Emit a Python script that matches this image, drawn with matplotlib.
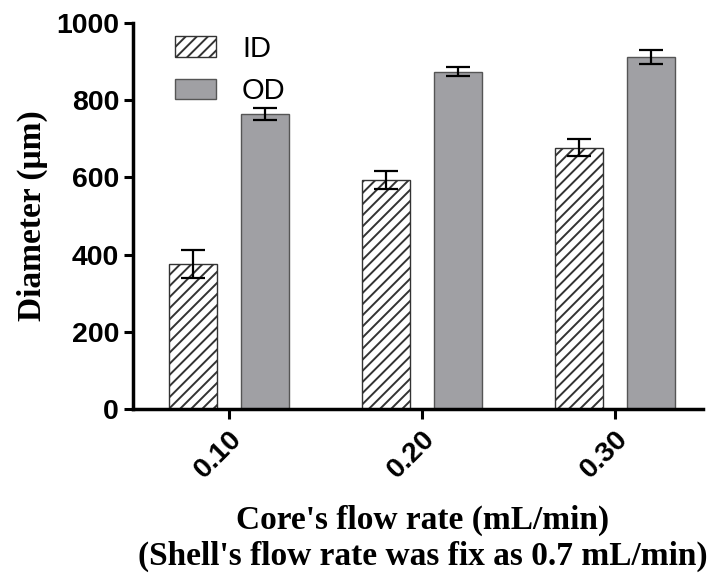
import matplotlib
matplotlib.use("Agg")
import matplotlib.pyplot as plt
import numpy as np

categories = ["0.10", "0.20", "0.30"]
id_vals = [375, 593, 677]
id_err = [36, 24, 22]
od_vals = [765, 874, 912]
od_err = [16, 11, 17]
series_names = ["ID", "OD"]

plt.rcParams['hatch.linewidth'] = 1.4
fig = plt.figure(figsize=(7.10, 5.74), dpi=100)
W, H = 710, 574
ax = fig.add_axes([133 / W, 1 - 409 / H, (703 - 133) / W, (409 - 23) / H])

x = np.arange(len(categories))
bw = 0.25
off = 0.187
ax.bar(x - off, id_vals, bw, color="white", edgecolor="#333333", linewidth=1.0,
       hatch="///", label=series_names[0], zorder=2)
ax.bar(x + off, od_vals, bw, color="#a0a0a4", edgecolor="#555555", linewidth=1.0,
       label=series_names[1], zorder=2)
ax.errorbar(x - off, id_vals, yerr=id_err, fmt="none", ecolor="black",
            elinewidth=1.6, capsize=8.3, capthick=1.6, zorder=3)
ax.errorbar(x + off, od_vals, yerr=od_err, fmt="none", ecolor="black",
            elinewidth=1.6, capsize=8.3, capthick=1.6, zorder=3)

ax.set_xlim(-0.497, 2.456)
ax.set_ylim(0, 1000)
ax.set_yticks([0, 200, 400, 600, 800, 1000])
ax.set_xticks(x)
ax.set_xticklabels(categories, rotation=45, ha="right", va="top",
                   rotation_mode="anchor")

for s in ["top", "right"]:
    ax.spines[s].set_visible(False)
for s in ["left", "bottom"]:
    ax.spines[s].set_linewidth(2.5)

ax.tick_params(axis="y", length=6.5, width=2.2, labelsize=20.5, pad=3.5)
ax.tick_params(axis="x", length=7, width=2.2, labelsize=20.5, pad=5)
for lab in ax.get_xticklabels() + ax.get_yticklabels():
    lab.set_fontfamily("Liberation Sans")
    lab.set_fontweight("bold")

ax.set_ylabel("Diameter (\u03bcm)", fontfamily="Liberation Serif",
              fontweight="bold", fontsize=24, labelpad=6)
ax.set_xlabel("Core's flow rate (mL/min)\n(Shell's flow rate was fix as 0.7 mL/min)",
              fontfamily="Liberation Serif", fontweight="bold", fontsize=24,
              linespacing=1.2, va="bottom")
ax.xaxis.set_label_coords(423 / W, 1.5 / H, transform=fig.transFigure)

leg = ax.legend(loc="upper left", bbox_to_anchor=(0.053, 1.0), frameon=False,
                prop={"family": "Liberation Sans", "size": 21},
                handlelength=1.4, handleheight=0.7, handletextpad=0.9,
                labelspacing=0.5, borderaxespad=0.0)

fig.savefig("out.png", dpi=100)
